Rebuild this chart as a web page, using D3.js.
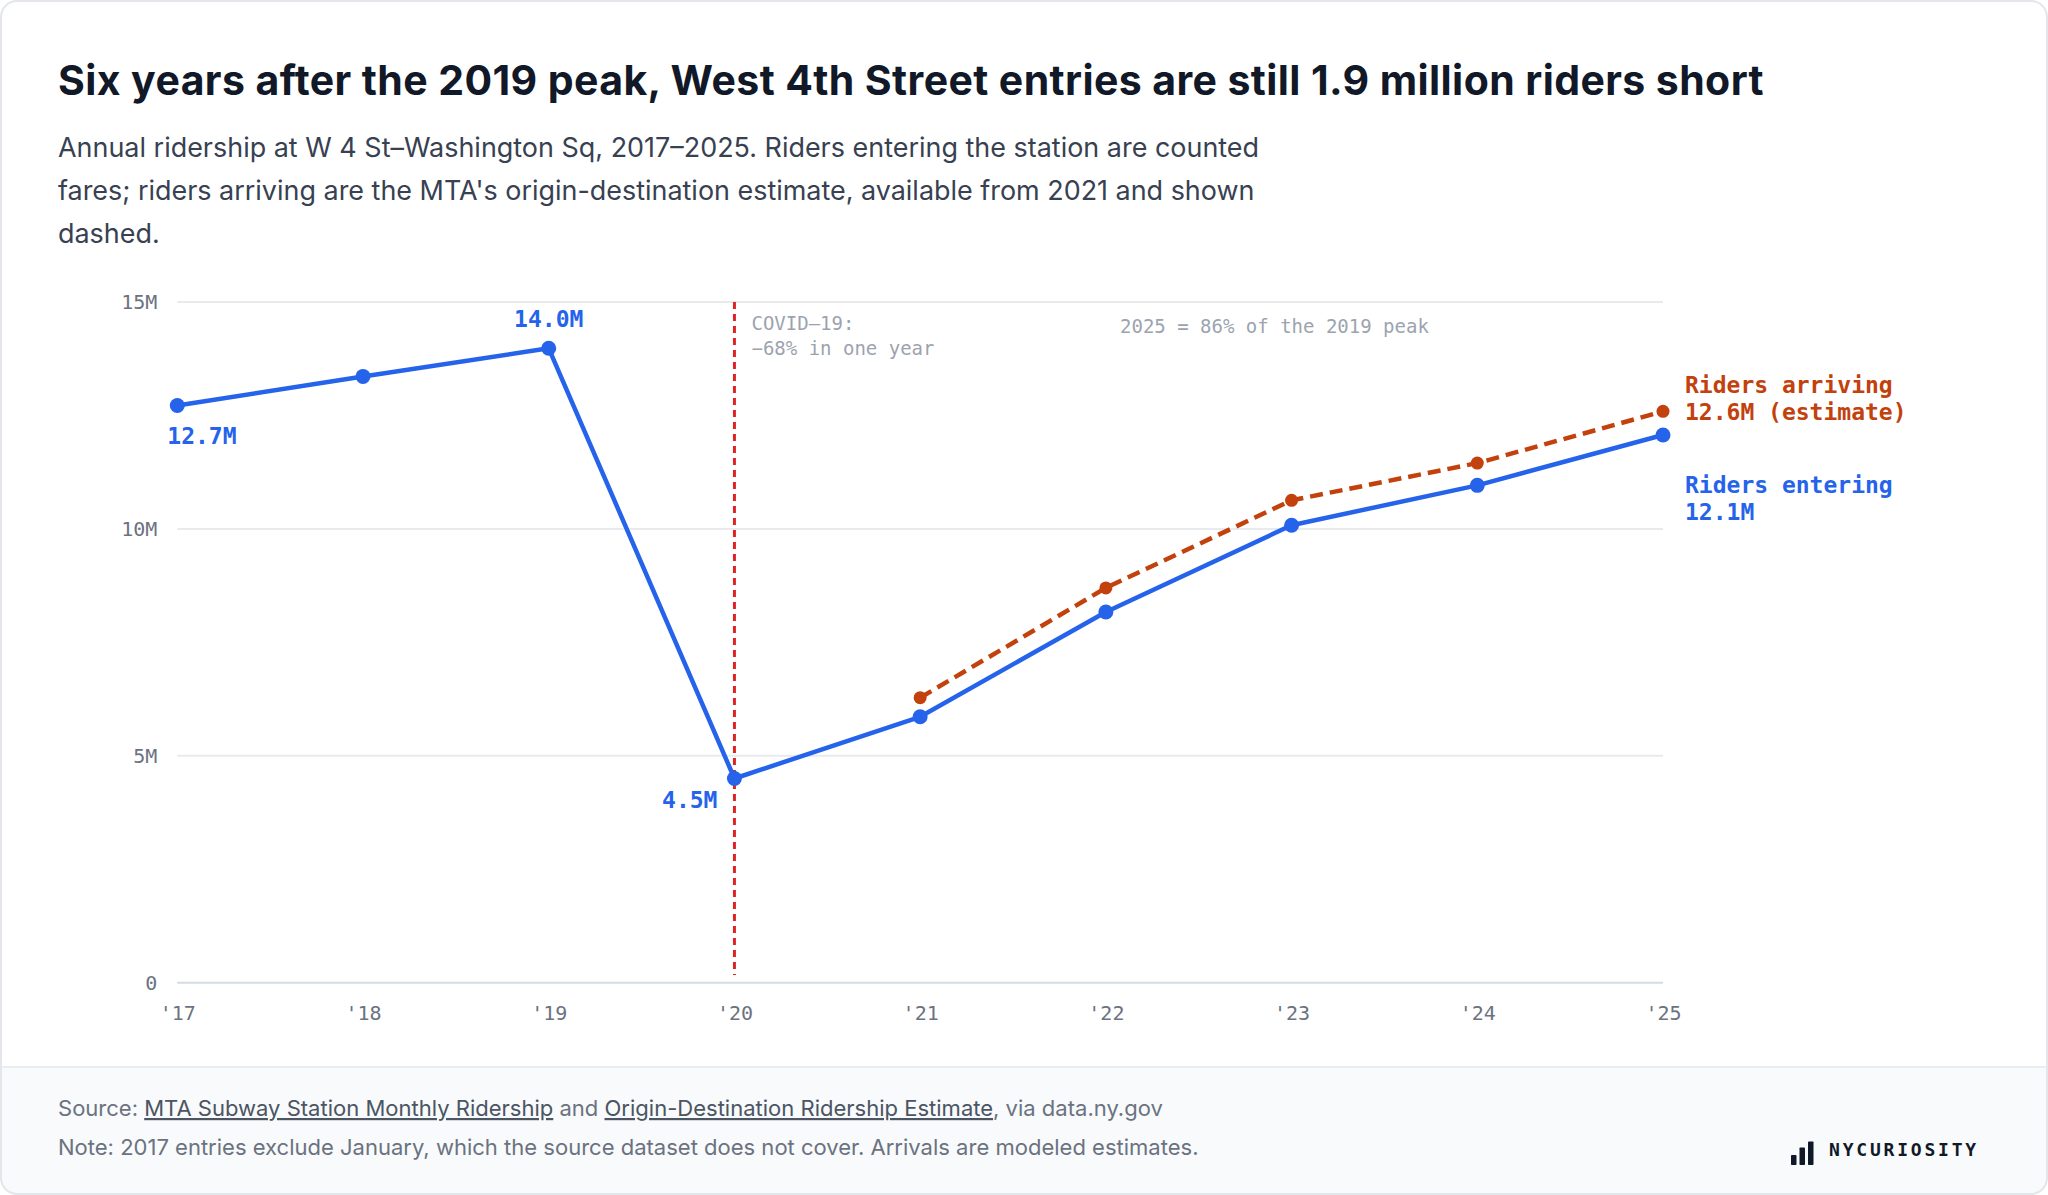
<!DOCTYPE html>
<html><head><meta charset="utf-8">
<script src="https://cdn.jsdelivr.net/npm/d3@7"></script>
<style>
html,body{margin:0;padding:0;background:#ffffff;}
svg{display:block}
</style></head>
<body>
<svg id="chart" width="2048" height="1195"></svg>
<script>
// ---- data ----
const years = [2017, 2018, 2019, 2020, 2021, 2022, 2023, 2024, 2025];
const yearTickLabels = ["'17", "'18", "'19", "'20", "'21", "'22", "'23", "'24", "'25"];
const entering = [12.72, 13.36, 13.98, 4.50, 5.86, 8.17, 10.08, 10.96, 12.07]; // millions
const arrivingYears = [2021, 2022, 2023, 2024, 2025];
const arriving = [6.28, 8.70, 10.63, 11.45, 12.59]; // millions (estimate)
const yTicks = [0, 5, 10, 15];
const yTickLabels = ["0", "5M", "10M", "15M"];

const titleText = "Six years after the 2019 peak, West 4th Street entries are still 1.9 million riders short";
const subtitleLines = [
  "Annual ridership at W 4 St\u2013Washington Sq, 2017\u20132025. Riders entering the station are counted",
  "fares; riders arriving are the MTA's origin-destination estimate, available from 2021 and shown",
  "dashed."
];

const W = 2048, H = 1195;
const svg = d3.select("#chart");
const SANS = "Inter, 'Noto Sans', sans-serif";
const MONO = "'DejaVu Sans Mono', 'Liberation Mono', monospace";

const BLUE = "#2563eb", ORANGE = "#c2410c", RED = "#dc2626";

// ---- card ----
const defs = svg.append("defs");
defs.append("clipPath").attr("id", "cardclip")
  .append("rect").attr("x", 1).attr("y", 1).attr("width", W - 2).attr("height", H - 2).attr("rx", 16);
const card = svg.append("g").attr("clip-path", "url(#cardclip)");
card.append("rect").attr("x", 0).attr("y", 0).attr("width", W).attr("height", H).attr("fill", "#ffffff");
card.append("rect").attr("x", 0).attr("y", 1067).attr("width", W).attr("height", H).attr("fill", "#f8fafc");
card.append("line").attr("x1", 0).attr("x2", W).attr("y1", 1067).attr("y2", 1067).attr("stroke", "#e5e7eb").attr("stroke-width", 1.5);
svg.append("rect").attr("x", 1).attr("y", 1).attr("width", W - 2).attr("height", H - 2).attr("rx", 16)
  .attr("fill", "none").attr("stroke", "#e3e6ea").attr("stroke-width", 2);

function fitSpacing(sel, target) {
  const n = sel.text().length;
  const cur = parseFloat(sel.attr("letter-spacing")) || 0;
  const w = sel.node().getComputedTextLength();
  sel.attr("letter-spacing", (cur + (target - w) / n).toFixed(3));
}
function fitSize(sel, target) {
  const fs = parseFloat(sel.attr("font-size"));
  const w = sel.node().getComputedTextLength();
  const nf = fs * target / w;
  sel.attr("font-size", nf.toFixed(2));
  return nf;
}

// ---- title / subtitle ----
const title = svg.append("text").attr("x", 58).attr("y", 95)
  .attr("font-family", SANS).attr("font-weight", 700).attr("font-size", 41)
  .attr("fill", "#111827").text(titleText);
fitSpacing(title, 1706);

let subSize = 23;
subtitleLines.forEach((t, i) => {
  const s = svg.append("text").attr("x", 58).attr("y", 157 + i * 43)
    .attr("font-family", SANS).attr("font-size", subSize).attr("fill", "#374151").text(t);
  if (i === 0) subSize = fitSize(s, 1201);
});

// ---- scales ----
const x = d3.scaleLinear().domain([2017, 2025]).range([177.3, 1663]);
const y = d3.scaleLinear().domain([0, 15]).range([982.7, 302]);

// gridlines
svg.append("g").selectAll("line").data(yTicks).join("line")
  .attr("x1", x(2017)).attr("x2", x(2025))
  .attr("y1", d => y(d)).attr("y2", d => y(d))
  .attr("stroke", d => d === 0 ? "#d5dbe5" : "#e8eaee").attr("stroke-width", 2);

// y axis
const yAxis = svg.append("g").attr("transform", `translate(${x(2017) - 20},0)`)
  .call(d3.axisLeft(y).tickValues(yTicks).tickSize(0).tickPadding(0)
    .tickFormat((d, i) => yTickLabels[i]));
yAxis.select(".domain").remove();
yAxis.selectAll("text").attr("font-family", MONO).attr("font-size", 20).attr("fill", "#6b7280")
  .attr("dy", "0.32em");

// x axis
const xAxis = svg.append("g").attr("transform", `translate(0,${y(0)})`)
  .call(d3.axisBottom(x).tickValues(years).tickSize(0).tickPadding(0)
    .tickFormat((d, i) => yearTickLabels[i]));
xAxis.select(".domain").remove();
xAxis.selectAll("text").attr("font-family", MONO).attr("font-size", 20).attr("fill", "#6b7280")
  .attr("y", 37).attr("dy", 0);

// COVID marker
svg.append("line").attr("x1", x(2020)).attr("x2", x(2020)).attr("y1", y(15)).attr("y2", 975)
  .attr("stroke", RED).attr("stroke-width", 3).attr("stroke-dasharray", "7 5");
const covid = svg.append("text").attr("font-family", MONO).attr("font-size", 19).attr("fill", "#9ca3af");
covid.append("tspan").attr("x", x(2020) + 17).attr("y", 330).text("COVID\u201319:");
covid.append("tspan").attr("x", x(2020) + 17).attr("y", 355).text("\u221268% in one year");
svg.append("text").attr("x", 1120).attr("y", 333).attr("font-family", MONO).attr("font-size", 19)
  .attr("fill", "#9ca3af").text("2025 = 86% of the 2019 peak");

// lines
const line = d3.line().x(d => x(d[0])).y(d => y(d[1]));
const entData = years.map((yr, i) => [yr, entering[i]]);
const arrData = arrivingYears.map((yr, i) => [yr, arriving[i]]);

svg.append("path").datum(arrData).attr("d", line).attr("fill", "none")
  .attr("stroke", ORANGE).attr("stroke-width", 4.5).attr("stroke-dasharray", "13 7")
  .attr("stroke-linejoin", "round");
svg.append("g").selectAll("circle").data(arrData).join("circle")
  .attr("cx", d => x(d[0])).attr("cy", d => y(d[1])).attr("r", 6.5).attr("fill", ORANGE);

svg.append("path").datum(entData).attr("d", line).attr("fill", "none")
  .attr("stroke", BLUE).attr("stroke-width", 4.5).attr("stroke-linejoin", "round");
svg.append("g").selectAll("circle").data(entData).join("circle")
  .attr("cx", d => x(d[0])).attr("cy", d => y(d[1])).attr("r", 7.5).attr("fill", BLUE);

// value labels
function lab(txt, xx, yy, anchor, color) {
  svg.append("text").attr("x", xx).attr("y", yy).attr("text-anchor", anchor)
    .attr("font-family", MONO).attr("font-weight", 700).attr("font-size", 23)
    .attr("fill", color).text(txt);
}
lab(entering[0].toFixed(1) + "M", x(2017) - 10, y(entering[0]) + 39, "start", BLUE);
lab(entering[2].toFixed(1) + "M", x(2019), y(entering[2]) - 21, "middle", BLUE);
lab(entering[3].toFixed(1) + "M", x(2020) - 17, y(entering[3]) + 30, "end", BLUE);

const ex = x(2025) + 22;
lab("Riders arriving", ex, y(arriving[4]) - 18, "start", ORANGE);
lab(arriving[4].toFixed(1) + "M (estimate)", ex, y(arriving[4]) + 9, "start", ORANGE);
lab("Riders entering", ex, y(entering[8]) + 58, "start", BLUE);
lab(entering[8].toFixed(1) + "M", ex, y(entering[8]) + 85, "start", BLUE);

// ---- footer ----
const note = svg.append("text").attr("x", 58).attr("y", 1155).attr("font-family", SANS)
  .attr("font-size", 18.5).attr("fill", "#6b7280")
  .text("Note: 2017 entries exclude January, which the source dataset does not cover. Arrivals are modeled estimates.");
const footSize = fitSize(note, 1141);

const src = svg.append("text").attr("x", 58).attr("y", 1116).attr("font-family", SANS)
  .attr("font-size", footSize).attr("fill", "#6b7280");
src.append("tspan").text("Source: ");
src.append("tspan").attr("fill", "#4b5563").style("text-decoration", "underline").text("MTA Subway Station Monthly Ridership");
src.append("tspan").text(" and ");
src.append("tspan").attr("fill", "#4b5563").style("text-decoration", "underline").text("Origin-Destination Ridership Estimate");
src.append("tspan").text(", via data.ny.gov");

// logo
const logo = svg.append("g");
[[1791, 10], [1799.5, 17.5], [1808, 23.5]].forEach(([bx, bh]) => {
  logo.append("rect").attr("x", bx).attr("y", 1165 - bh).attr("width", 5.5).attr("height", bh)
    .attr("rx", 0.8).attr("fill", "#111827");
});
const lt = logo.append("text").attr("x", 1829).attr("y", 1156).attr("font-family", MONO)
  .attr("font-weight", 700).attr("font-size", 18).attr("fill", "#111827").text("NYCURIOSITY");
fitSpacing(lt, 150);
</script>
</body></html>
